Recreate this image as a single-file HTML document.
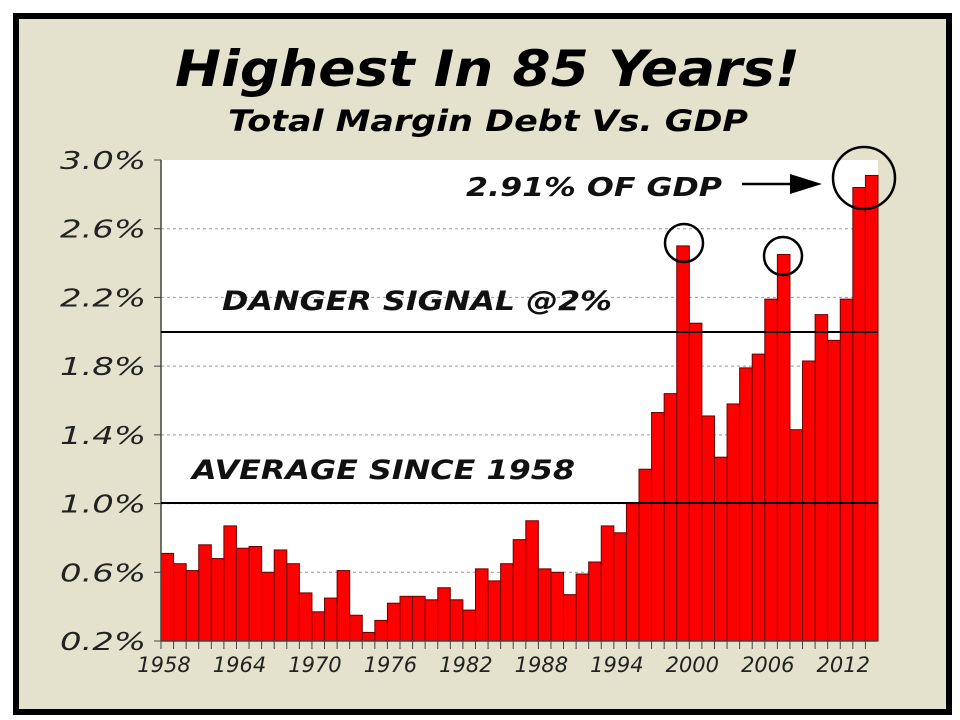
<!DOCTYPE html>
<html><head><meta charset="utf-8"><style>
html,body{margin:0;padding:0;background:#fff;width:960px;height:720px;overflow:hidden}
</style></head><body>
<svg id="chart" width="960" height="720" xmlns="http://www.w3.org/2000/svg">
<rect x="16" y="16" width="933" height="696" fill="#e4e2cc" stroke="#000" stroke-width="6"/>
<text x="175" y="86" textLength="625" lengthAdjust="spacingAndGlyphs" font-family="'DejaVu Sans','Liberation Sans',sans-serif" font-weight="bold" font-style="italic" font-size="50" fill="#000">Highest In 85 Years!</text>
<text x="228" y="131" textLength="520" lengthAdjust="spacingAndGlyphs" font-family="'DejaVu Sans','Liberation Sans',sans-serif" font-weight="bold" font-style="italic" font-size="29" fill="#000">Total Margin Debt Vs. GDP</text>
<rect x="161" y="160" width="717" height="481" fill="#fff"/>
<g id="grid"></g>
<g id="bars"></g>
<g id="axes"></g>
<line x1="161" y1="332" x2="878" y2="332" stroke="#000" stroke-width="2"/>
<line x1="161" y1="503" x2="878" y2="503" stroke="#000" stroke-width="2"/>
<text x="222" y="310" textLength="390" lengthAdjust="spacingAndGlyphs" font-family="'DejaVu Sans','Liberation Sans',sans-serif" font-weight="bold" font-style="italic" font-size="27" fill="#111">DANGER SIGNAL @2%</text>
<text x="192" y="479" textLength="383" lengthAdjust="spacingAndGlyphs" font-family="'DejaVu Sans','Liberation Sans',sans-serif" font-weight="bold" font-style="italic" font-size="27" fill="#111">AVERAGE SINCE 1958</text>
<text x="466" y="196" textLength="256" lengthAdjust="spacingAndGlyphs" font-family="'DejaVu Sans','Liberation Sans',sans-serif" font-weight="bold" font-style="italic" font-size="26" fill="#111">2.91% OF GDP</text>
<line x1="742" y1="184" x2="795" y2="184" stroke="#000" stroke-width="2.5"/>
<polygon points="790,174 822,184 790,194" fill="#000"/>
<circle cx="684" cy="243" r="19" fill="none" stroke="#000" stroke-width="2.5"/>
<circle cx="783" cy="256" r="19" fill="none" stroke="#000" stroke-width="2.5"/>
<circle cx="864" cy="178" r="31" fill="none" stroke="#000" stroke-width="2.5"/>
</svg>
<script>
const years = [1958,1959,1960,1961,1962,1963,1964,1965,1966,1967,1968,1969,1970,1971,1972,1973,1974,1975,1976,1977,1978,1979,1980,1981,1982,1983,1984,1985,1986,1987,1988,1989,1990,1991,1992,1993,1994,1995,1996,1997,1998,1999,2000,2001,2002,2003,2004,2005,2006,2007,2008,2009,2010,2011,2012,2013,2014];
const values = [0.71,0.65,0.61,0.76,0.68,0.87,0.74,0.75,0.60,0.73,0.65,0.48,0.37,0.45,0.61,0.35,0.25,0.32,0.42,0.46,0.46,0.44,0.51,0.44,0.38,0.62,0.55,0.65,0.79,0.90,0.62,0.60,0.47,0.59,0.66,0.87,0.83,1.00,1.20,1.53,1.64,2.50,2.05,1.51,1.27,1.58,1.79,1.87,2.19,2.45,1.43,1.83,2.10,1.95,2.19,2.84,2.91];
const yTicks = [0.2,0.6,1.0,1.4,1.8,2.2,2.6,3.0];
const xTickLabels = [1958,1964,1970,1976,1982,1988,1994,2000,2006,2012];
const NS="http://www.w3.org/2000/svg";
const X0=161, X1=878, Y0=641, Y1=160, YMIN=0.2, YMAX=3.0;
const step=(X1-X0)/years.length;
function xPos(i){return X0+i*step;}
function yPos(v){return Y0-(v-YMIN)/(YMAX-YMIN)*(Y0-Y1);}
function mk(t,a){const e=document.createElementNS(NS,t);for(const k in a)e.setAttribute(k,a[k]);return e;}
const grid=document.getElementById('grid'),bars=document.getElementById('bars'),axes=document.getElementById('axes');
yTicks.forEach(v=>{
  const y=yPos(v);
  if(v>YMIN&&v<YMAX){const g=mk('line',{x1:X0,x2:X1,y1:y,y2:y,stroke:'#999','stroke-dasharray':'3,3','stroke-width':1});
  
  
  grid.appendChild(g);}
  const t=mk('text',{x:60,y:y+9,textLength:86,lengthAdjust:'spacingAndGlyphs','font-family':"'DejaVu Sans','Liberation Sans',sans-serif",'font-style':'italic','font-size':25,fill:'#222'});
  t.textContent=v.toFixed(1)+'%';
  
  
  axes.appendChild(t);
  const tk=mk('line',{x1:X0-7,x2:X0,y1:y,y2:y,stroke:'#444'});
  
  
  axes.appendChild(tk);
});
values.forEach((v,i)=>{
  const y=yPos(v);
  const r=mk('rect',{x:xPos(i),y:y,width:step,height:Y0-y,fill:'#ff0000',stroke:'#6a0000','stroke-width':1});
  
  
  bars.appendChild(r);
  const tk=mk('line',{x1:xPos(i),x2:xPos(i),y1:Y0,y2:Y0+8,stroke:'#444'});
  
  
  axes.appendChild(tk);
});
const ax=mk('line',{x1:X0,x2:X0,y1:Y1,y2:Y0,stroke:'#444','stroke-width':1.5});


axes.appendChild(ax);
const bx=mk('line',{x1:X0,x2:X1,y1:Y0,y2:Y0,stroke:'#444','stroke-width':1.5});


axes.appendChild(bx);
xTickLabels.forEach(yr=>{
  const i=years.indexOf(yr);
  const t=mk('text',{x:xPos(i)+3,y:672,'text-anchor':'middle','font-family':"'DejaVu Sans','Liberation Sans',sans-serif",'font-style':'italic','font-size':21,fill:'#222'});
  t.textContent=yr;
  
  
  axes.appendChild(t);
});
</script>
</body></html>
